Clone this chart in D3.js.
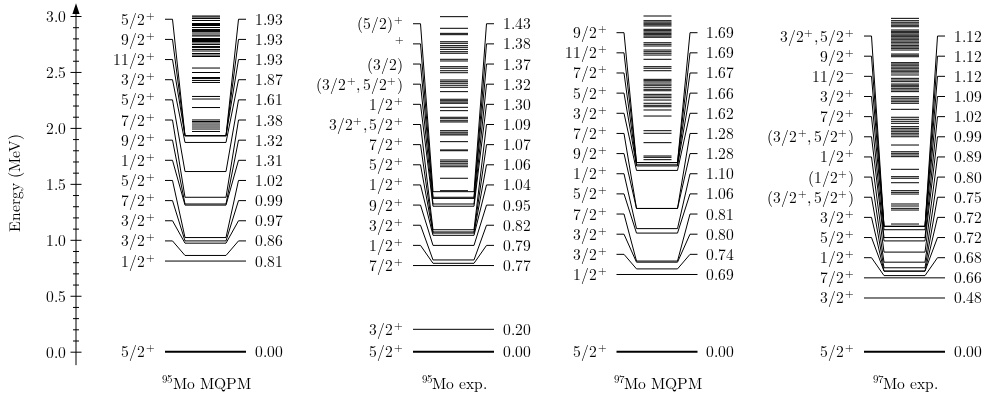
<!DOCTYPE html>
<html>
<head>
<meta charset="utf-8">
<script src="https://cdn.jsdelivr.net/npm/d3@7"></script>
<style>
  /* Latin Modern with tighter line metrics so stacked labels keep compact boxes */
  @font-face {
    font-family: "LMTight";
    src: local("Latin Modern Roman"), local("LM Roman 10 Regular"), local("LMRoman10-Regular"),
         local("Latin Modern Roman Regular"), local("LM Roman 10");
    ascent-override: 78%;
    descent-override: 20%;
    line-gap-override: 0%;
  }
  html, body { margin: 0; padding: 0; background: #fff; }
  svg { display: block; will-change: transform; }
</style>
</head>
<body>
<svg id="chart" width="991" height="400"></svg>
<script>
// ---- level schemes (energies in MeV, spins with ^ marking a superscript parity) ----
const panelMass   = ["95", "95", "97", "97"];
const panelTitles = ["Mo MQPM", "Mo exp.", "Mo MQPM", "Mo exp."];

const mo95QpmEnergies = [0.00, 0.81, 0.86, 0.97, 0.99, 1.02, 1.31, 1.32, 1.38, 1.61, 1.87, 1.93, 1.93, 1.93];
const mo95QpmSpins    = ["5/2^+", "1/2^+", "3/2^+", "3/2^+", "7/2^+", "5/2^+", "1/2^+", "9/2^+", "7/2^+", "5/2^+", "3/2^+", "11/2^+", "9/2^+", "5/2^+"];
const mo95QpmUpper    = [3.000, 2.991, 2.978, 2.960, 2.933, 2.924, 2.915, 2.897, 2.879, 2.870, 2.862, 2.848,
                         2.830, 2.821, 2.799, 2.790, 2.781, 2.772, 2.759, 2.745, 2.727, 2.718, 2.701, 2.687,
                         2.665, 2.651, 2.638, 2.535, 2.495, 2.450, 2.441, 2.424, 2.406, 2.281, 2.258, 2.182,
                         2.071, 2.057, 2.044, 2.026, 2.008, 1.990, 1.968];

const mo95ExpEnergies = [0.00, 0.20, 0.77, 0.79, 0.82, 0.95, 1.04, 1.06, 1.07, 1.09, 1.30, 1.32, 1.37, 1.38, 1.43];
const mo95ExpSpins    = ["5/2^+", "3/2^+", "7/2^+", "1/2^+", "3/2^+", "9/2^+", "1/2^+", "5/2^+", "7/2^+",
                         "3/2^+,5/2^+", "1/2^+", "(3/2^+,5/2^+)", "(3/2)", "^+", "(5/2)^+"];
const mo95ExpUpper    = [2.994, 2.890, 2.845, 2.833, 2.770, 2.756, 2.735, 2.720, 2.702, 2.681, 2.667, 2.613,
                         2.598, 2.547, 2.533, 2.511, 2.493, 2.428, 2.413, 2.399, 2.381, 2.363, 2.324, 2.256,
                         2.243, 2.231, 2.220, 2.184, 2.154, 2.095, 2.082, 2.064, 2.053, 1.975, 1.961, 1.946,
                         1.937, 1.877, 1.803, 1.796, 1.713, 1.698, 1.684, 1.668, 1.653, 1.550, 1.439];

const mo97QpmEnergies = [0.00, 0.69, 0.74, 0.80, 0.81, 1.06, 1.10, 1.28, 1.28, 1.62, 1.66, 1.67, 1.69, 1.69];
const mo97QpmSpins    = ["5/2^+", "1/2^+", "3/2^+", "3/2^+", "7/2^+", "5/2^+", "1/2^+", "9/2^+", "7/2^+",
                         "3/2^+", "5/2^+", "7/2^+", "11/2^+", "9/2^+"];
const mo97QpmUpper    = [3.000, 2.958, 2.946, 2.935, 2.922, 2.911, 2.881, 2.869, 2.857, 2.845, 2.833, 2.821,
                         2.810, 2.761, 2.747, 2.732, 2.696, 2.681, 2.667, 2.651, 2.613, 2.547, 2.533, 2.511,
                         2.434, 2.422, 2.410, 2.392, 2.381, 2.363, 2.345, 2.332, 2.300, 2.285, 2.270, 2.249,
                         2.220, 2.202, 2.189, 2.160, 2.106, 1.975, 1.952, 1.868, 1.749, 1.737, 1.716];

const mo97ExpEnergies = [0.00, 0.48, 0.66, 0.68, 0.72, 0.72, 0.75, 0.80, 0.89, 0.99, 1.02, 1.09, 1.12, 1.12, 1.12];
const mo97ExpSpins    = ["5/2^+", "3/2^+", "7/2^+", "1/2^+", "5/2^+", "3/2^+", "(3/2^+,5/2^+)", "(1/2^+)",
                         "1/2^+", "(3/2^+,5/2^+)", "7/2^+", "3/2^+", "11/2^-", "9/2^+", "3/2^+,5/2^+"];
const mo97ExpUpper    = [2.979, 2.958, 2.944, 2.929, 2.917, 2.904, 2.875, 2.863, 2.851, 2.839, 2.828, 2.815,
                         2.803, 2.792, 2.777, 2.765, 2.750, 2.735, 2.723, 2.711, 2.696, 2.660, 2.649, 2.636,
                         2.583, 2.571, 2.560, 2.544, 2.533, 2.517, 2.506, 2.491, 2.473, 2.443, 2.428, 2.413,
                         2.392, 2.381, 2.368, 2.354, 2.339, 2.324, 2.279, 2.265, 2.249, 2.234, 2.220, 2.166,
                         2.095, 2.077, 2.059, 2.041, 2.011, 1.996, 1.981, 1.966, 1.952, 1.937, 1.921, 1.847,
                         1.787, 1.773, 1.758, 1.743, 1.630, 1.564, 1.550, 1.510, 1.439, 1.424, 1.409, 1.320,
                         1.302, 1.281, 1.266, 1.141];

const axisMajorTicks = [0.0, 0.5, 1.0, 1.5, 2.0, 2.5, 3.0];
const axisTitle = "Energy (MeV)";

// ---- layout ----
const SERIF = "'LMTight', 'Latin Modern Roman', 'Liberation Serif', serif";
const FS = 15.6;
const panels = [
  { energies: mo95QpmEnergies, spins: mo95QpmSpins, upper: mo95QpmUpper },
  { energies: mo95ExpEnergies, spins: mo95ExpSpins, upper: mo95ExpUpper },
  { energies: mo97QpmEnergies, spins: mo97QpmSpins, upper: mo97QpmUpper },
  { energies: mo97ExpEnergies, spins: mo97ExpSpins, upper: mo97ExpUpper }
];

const svg = d3.select("#chart");
const y = d3.scaleLinear().domain([0, 3]).range([351.7, 16]);
const panelX = d3.scaleOrdinal().domain(d3.range(panels.length)).range([165, 413, 616.5, 864]);

const W = 81;          // full width of a level column
const STUB = 7.5;      // short horizontal stub at the label row
const INSET = 20;      // where the actual level starts
const UPPER_INSET = 27;
const ROW = 20.15;     // minimum vertical spacing between label rows

function serif(sel, size) {
  return sel.style("font-family", SERIF).style("font-size", size + "px").style("fill", "#000");
}

// superscript-aware rich text writer
function rich(sel, s, supSize, rise) {
  const parts = s.split(/(\^[+\-]|,)/).filter(p => p !== "");
  let pendingDx = 0, raised = false;
  parts.forEach(p => {
    const t = sel.append("tspan");
    if (p[0] === "^") {
      t.text(p[1] === "-" ? "\u2212" : "+").style("font-size", supSize + "px")
        .attr("dy", -rise).attr("dx", 0.6);
      raised = true;
      return;
    }
    if (raised) { t.attr("dy", rise); raised = false; pendingDx += 0.6; }
    if (p === ",") { t.text(","); if (pendingDx) t.attr("dx", pendingDx); pendingDx = 2.6; return; }
    t.text(p);
    if (pendingDx) t.attr("dx", pendingDx);
    pendingDx = 0;
  });
}

// ---- energy axis ----
const axisX = 76;
const axisG = svg.append("g").attr("transform", `translate(${axisX},0)`);
axisG.call(d3.axisLeft(y).tickValues(axisMajorTicks).tickFormat(d3.format(".1f")).tickSize(5.5).tickPadding(5));
axisG.select(".domain").remove();
axisG.selectAll(".tick line").attr("x1", -5.5).attr("x2", 5.5).attr("stroke", "#000");
serif(axisG.selectAll(".tick text"), FS).attr("x", -10).attr("dy", "0.34em");

const minorVals = d3.range(1, 30).map(i => i / 10).filter(v => Math.abs(v * 2 - Math.round(v * 2)) > 1e-6);
const minorG = svg.append("g").attr("transform", `translate(${axisX},0)`);
minorG.call(d3.axisLeft(y).tickValues(minorVals).tickSize(3).tickFormat(""));
minorG.select(".domain").remove();
minorG.selectAll(".tick line").attr("x1", -3).attr("x2", 3).attr("stroke", "#000");

svg.append("line")
  .attr("x1", axisX).attr("x2", axisX)
  .attr("y1", y(-0.12)).attr("y2", 12)
  .attr("stroke", "#000").attr("stroke-width", 1);
svg.append("path")
  .attr("d", `M${axisX},3.3 L${axisX - 3.6},14 L${axisX + 3.6},14 Z`)
  .attr("fill", "#000");

serif(svg.append("text"), FS)
  .attr("transform", "translate(15,183) rotate(-90)")
  .attr("y", 5)
  .attr("text-anchor", "middle")
  .text(axisTitle);

// ---- level schemes ----
panels.forEach((p, i) => {
  const x0 = panelX(i);
  const g = svg.append("g");

  // unlabelled higher-lying states
  g.selectAll("line.upper").data(p.upper).join("line")
    .attr("class", "upper")
    .attr("x1", x0 + UPPER_INSET).attr("x2", x0 + W - UPPER_INSET + 1)
    .attr("y1", d => y(d)).attr("y2", d => y(d))
    .attr("stroke", "#000").attr("stroke-width", 1);

  // label rows: each row sits at its level unless it would crowd the row below
  const rows = [];
  p.energies.forEach((e, k) => {
    const ly = y(e);
    rows.push(k === 0 ? ly : Math.min(ly, rows[k - 1] - ROW));
  });

  const levels = p.energies.map((e, k) => ({ e, spin: p.spins[k], row: rows[k], ly: y(e), ground: k === 0 }));

  g.selectAll("path.level").data(levels).join("path")
    .attr("class", "level")
    .attr("fill", "none")
    .attr("stroke", "#000")
    .attr("stroke-width", d => d.ground ? 2 : 1)
    .attr("d", d => {
      if (Math.abs(d.row - d.ly) < 0.5) return `M${x0},${d.ly}H${x0 + W}`;
      return `M${x0},${d.row}H${x0 + STUB}L${x0 + INSET},${d.ly}H${x0 + W - INSET}` +
             `L${x0 + W - STUB},${d.row}H${x0 + W}`;
    });

  // spin-parity labels on the left
  serif(g.selectAll("text.spin").data(levels).join("text"), FS)
    .attr("class", "spin")
    .attr("x", x0 - 10).attr("y", d => d.row + 5.5)
    .attr("text-anchor", "end")
    .each(function (d) { rich(d3.select(this), d.spin, 11, 6); });

  // energy labels on the right
  serif(g.selectAll("text.energy").data(levels).join("text"), FS)
    .attr("class", "energy")
    .attr("x", x0 + W + 8.5).attr("y", d => d.row + 5.5)
    .text(d => d.e.toFixed(2));

  // column title with isotope mass as superscript
  const title = serif(g.append("text"), FS)
    .attr("x", x0 + W / 2 + 1).attr("y", 389)
    .attr("text-anchor", "middle");
  title.append("tspan").style("font-size", "11px").attr("dy", -6).text(panelMass[i]);
  title.append("tspan").attr("dy", 6).attr("dx", 0.6).text(panelTitles[i]);
});
</script>
</body>
</html>
